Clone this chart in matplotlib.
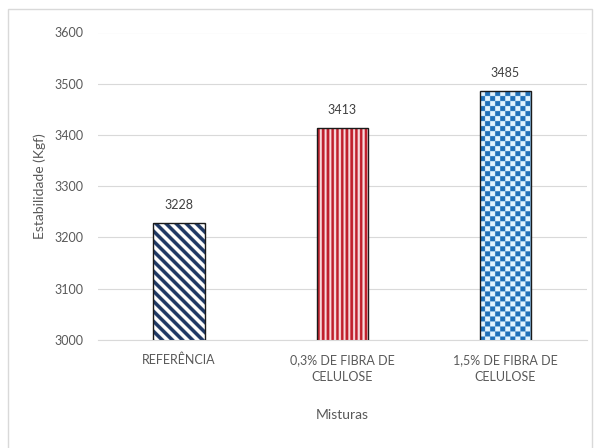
import matplotlib
matplotlib.use("Agg")
import matplotlib.pyplot as plt
from matplotlib.colors import ListedColormap
from matplotlib.patches import Rectangle
import numpy as np

plt.rcParams['font.family'] = ['Lato', 'DejaVu Sans']

# dados
categorias = ['REFERÊNCIA', '0,3% DE FIBRA DE\nCELULOSE', '1,5% DE FIBRA DE\nCELULOSE']
estabilidade = [3228, 3413, 3485]
padroes = ['diag', 'vert', 'xadrez']
cores = ['#1f3864', '#c0202c', '#1f70b8']
cores_fundo = ['white', '#f8dadd', '#e2f4ff']

fig = plt.figure(figsize=(5.97, 4.48), dpi=100)
W, H = 597, 448
ax = fig.add_axes([97.5 / W, 1 - 340 / H, (587 - 97.5) / W, (340 - 32.5) / H])

# moldura do grafico
fig.patches.append(Rectangle((8 / W, -0.01), (592 - 8) / W, 1.01 - 9 / H,
                             transform=fig.transFigure, fill=False,
                             edgecolor='#d9d9d9', linewidth=1))

x = np.arange(len(categorias))
barras = ax.bar(x, estabilidade, width=0.315, color='none',
                edgecolor='#1a1a1a', linewidth=1, zorder=3)

ax.set_xlim(-0.5, 2.5)
ax.set_ylim(3000, 3600)
ax.set_yticks(np.arange(3000, 3601, 100))


def padrao(tipo, nx, ny, ss):
    jj, ii = np.meshgrid(np.arange(nx), np.arange(ny))
    u = jj / ss
    v = ii / ss
    if tipo == 'diag':
        return (((u - v) % 10) < 5).astype(float)
    if tipo == 'vert':
        return ((u % 4.7) < 2.6).astype(float)
    return ((np.floor(u / 5) + np.floor(v / 5)) % 2).astype(float)


# preenchimento com padrao (recortado pela barra)
ss = 4
for rect, tipo, cor, fundo in zip(barras, padroes, cores, cores_fundo):
    x0 = rect.get_x()
    x1 = x0 + rect.get_width()
    y1 = rect.get_height()
    p0 = ax.transData.transform((x0, 3000))
    p1 = ax.transData.transform((x1, y1))
    nx = int(round(abs(p1[0] - p0[0]) * ss))
    ny = int(round(abs(p1[1] - p0[1]) * ss))
    img = padrao(tipo, nx, ny, ss)
    im = ax.imshow(img, extent=(x0, x1, 3000, y1), aspect='auto',
                   cmap=ListedColormap([fundo, cor]), vmin=0, vmax=1,
                   interpolation='antialiased', zorder=2)
    im.set_clip_path(rect)

ax.set_xlim(-0.5, 2.5)
ax.set_ylim(3000, 3600)

for xi, v in zip(x, estabilidade):
    ax.annotate(str(v), (xi, v), xytext=(0, 9), textcoords='offset points',
                ha='center', va='bottom', fontsize=9, color='#404040')

ax.yaxis.grid(True, color='#d9d9d9', linewidth=0.8, zorder=0)
ax.set_axisbelow(True)
for s in ['top', 'right', 'left']:
    ax.spines[s].set_visible(False)
ax.spines['bottom'].set_color('#d9d9d9')
ax.tick_params(axis='both', length=0, colors='#595959', labelsize=9)
ax.tick_params(axis='y', pad=10)
ax.tick_params(axis='x', pad=10)
ax.set_xticks(x)
ax.set_xticklabels(categorias, linespacing=1.5)

ax.set_ylabel('Estabilidade (Kgf)', fontsize=10, color='#595959')
ax.set_xlabel('Misturas', fontsize=10, color='#595959')
ax.yaxis.set_label_coords((40 - 97.5) / (587 - 97.5), 0.5)
ax.xaxis.set_label_coords(0.5, -(415 - 340) / (340 - 32.5))
ax.xaxis.label.set_va('center')
ax.yaxis.label.set_va('center')

plt.savefig('out.png', dpi=100)
